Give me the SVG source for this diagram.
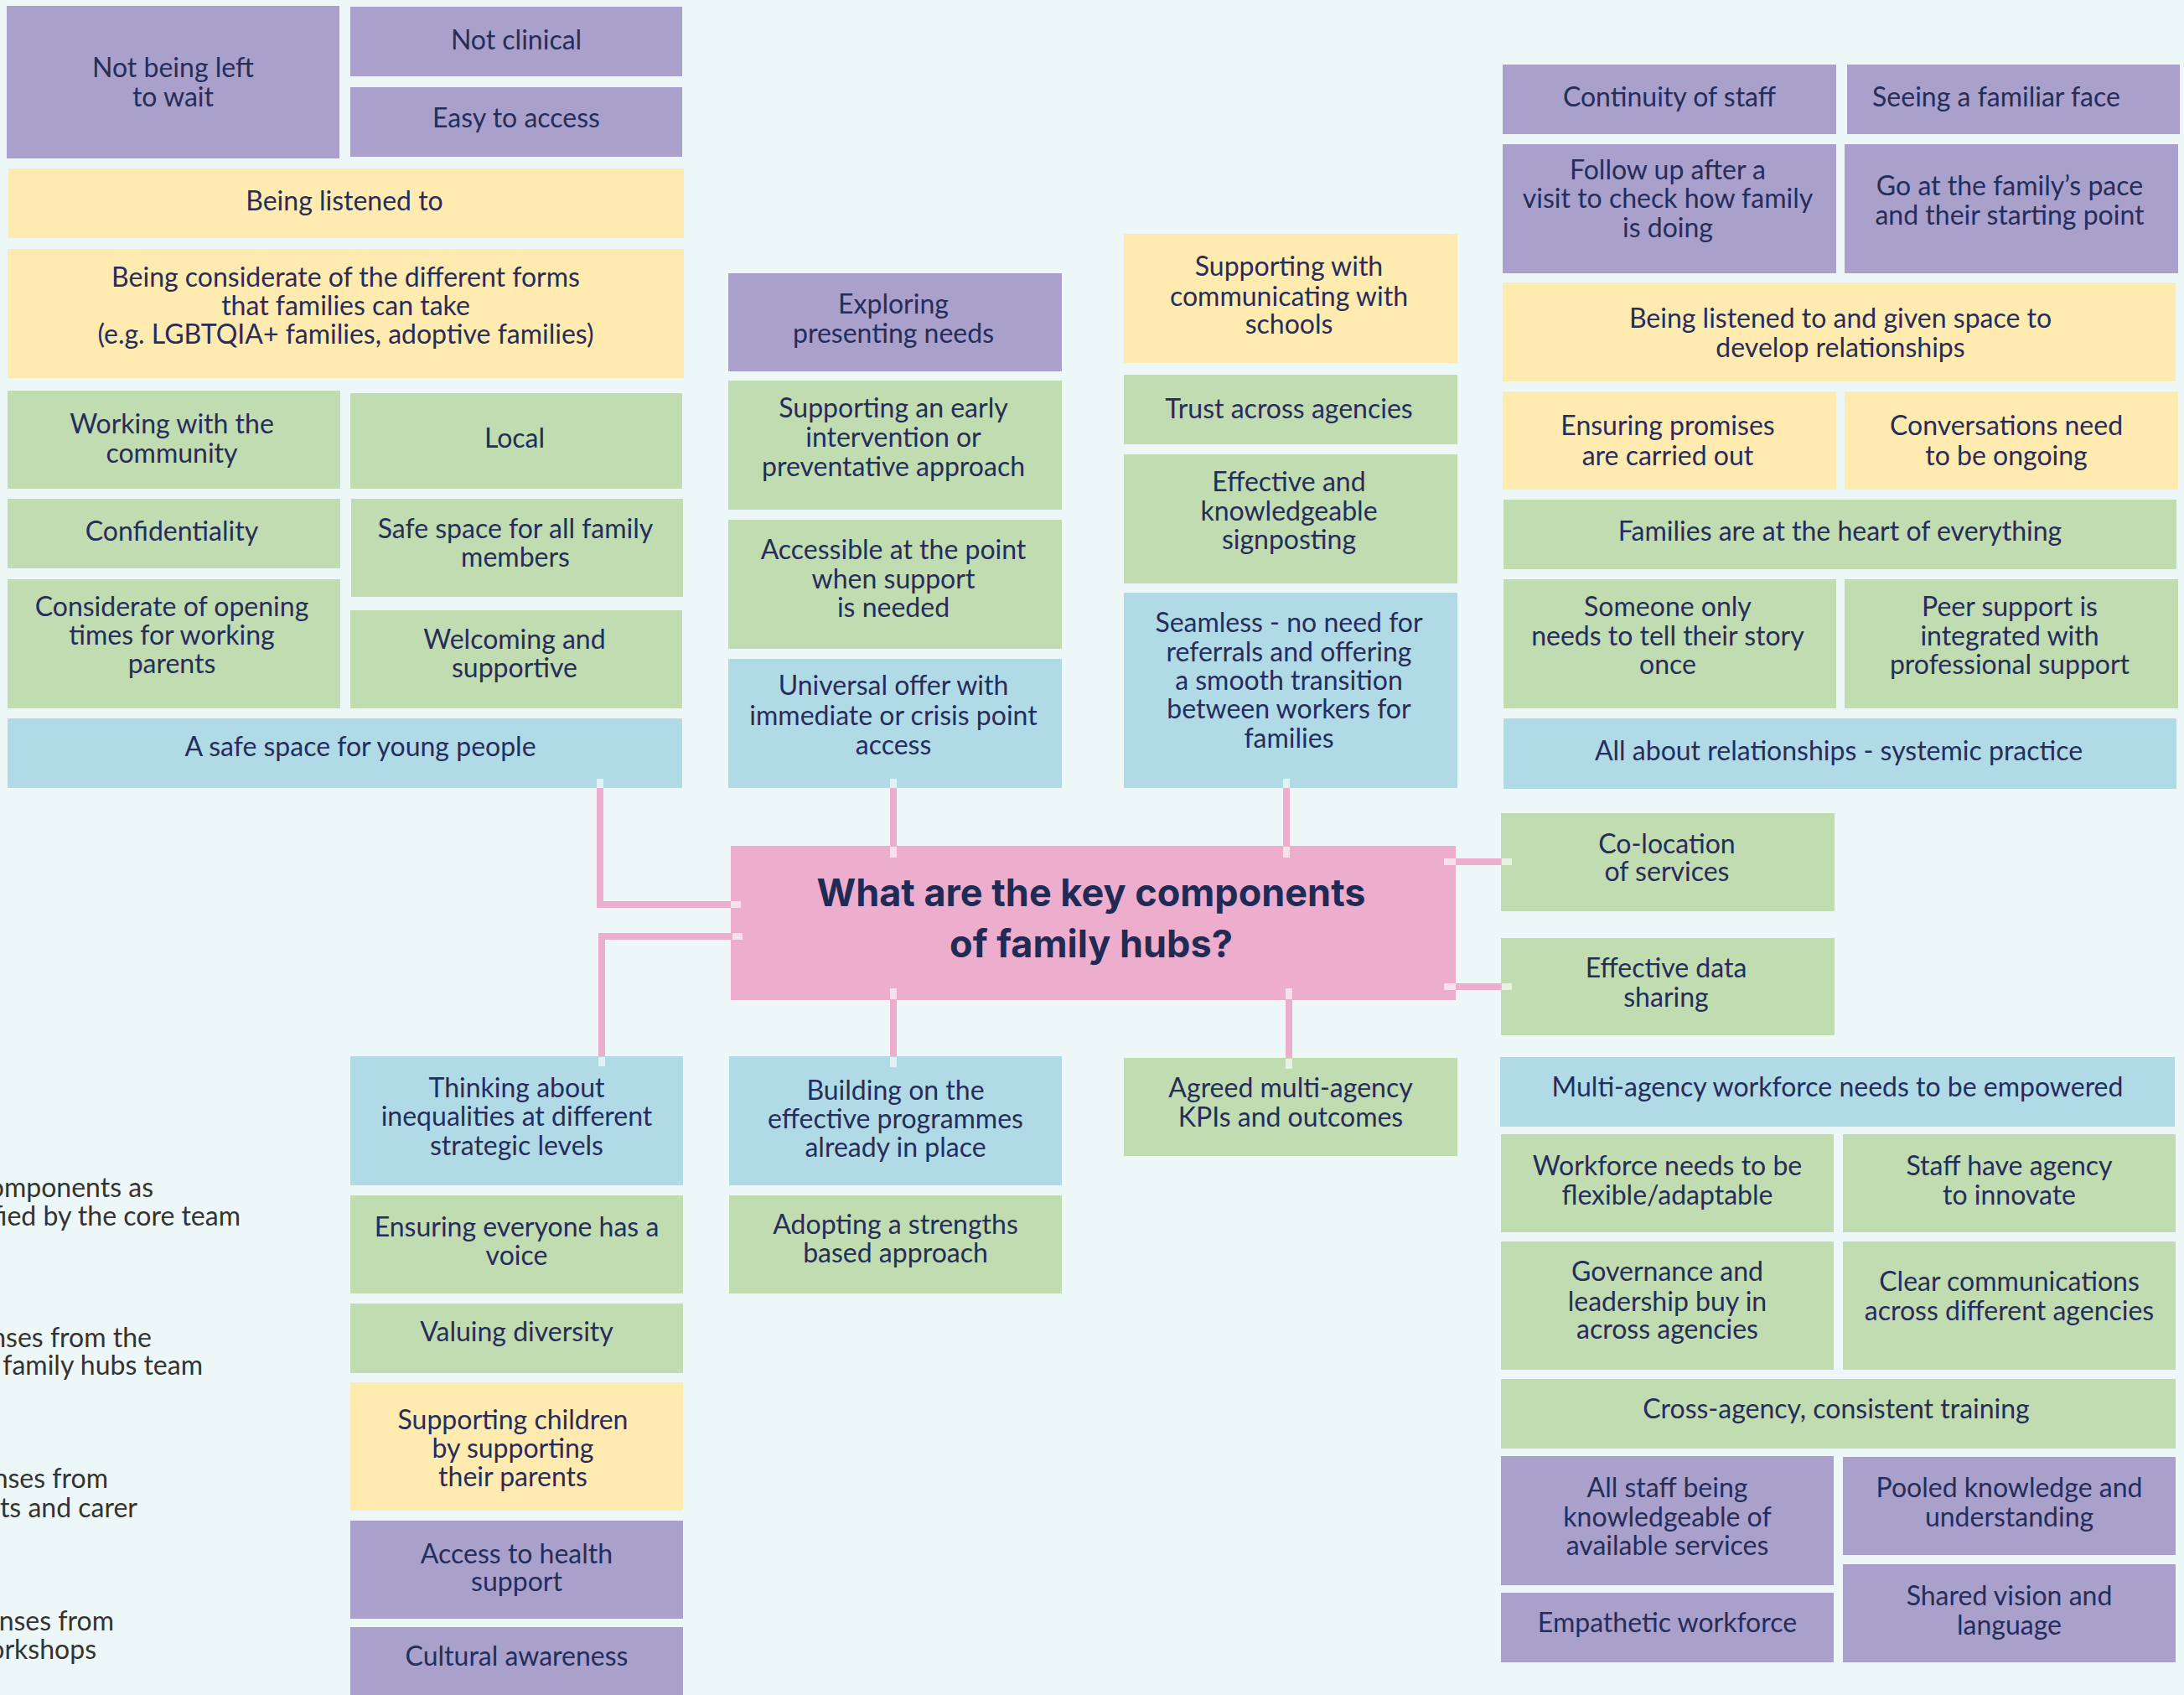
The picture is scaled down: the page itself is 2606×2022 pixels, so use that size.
<svg xmlns="http://www.w3.org/2000/svg" width="2606" height="2022" viewBox="0 0 2606 2022">
<style>
.p{fill:#a9a0cc}.y{fill:#ffeaaf}.g{fill:#c0dcb0}.b{fill:#b0dbe6}.k{fill:#edadcc}
.t{font-family:Lato,"Noto Sans",sans-serif;font-size:32px;fill:#262d5a;text-anchor:middle}
.h{font-family:Inter,"Noto Sans",sans-serif;font-size:45px;font-weight:700;fill:#1f2a55;text-anchor:middle}
.lg{font-family:Lato,"Noto Sans",sans-serif;font-size:32px;fill:#333333;text-anchor:end}
.c{stroke:#edadcc;stroke-width:8;fill:none;stroke-linejoin:miter}
.tip{fill:#ffffff;opacity:.62}
</style>
<rect width="2606" height="2022" fill="#eef7f7"/>

<g id="legend">
<text class="lg" x="183" y="1428">omponents as</text>
<text class="lg" x="287" y="1462">fied by the core team</text>
<text class="lg" x="181" y="1607">nses from the</text>
<text class="lg" x="242" y="1640">family hubs team</text>
<text class="lg" x="129" y="1775">nses from</text>
<text class="lg" x="164" y="1810">ts and carer</text>
<text class="lg" x="136" y="1945">nses from</text>
<text class="lg" x="115" y="1979">orkshops</text>
</g>

<g id="n-not-left"><rect class="p" x="8" y="7" width="397" height="182"/><text class="t"><tspan x="206.5" y="92">Not being left</tspan><tspan x="206.5" y="127">to wait</tspan></text></g>
<g id="n-not-clinical"><rect class="p" x="418" y="8" width="396" height="83"/><text class="t" x="616" y="59">Not clinical</text></g>
<g id="n-easy"><rect class="p" x="418" y="104" width="396" height="83"/><text class="t" x="616" y="152">Easy to access</text></g>
<g id="n-listened"><rect class="y" x="10" y="201" width="806" height="83"/><text class="t" x="411" y="251">Being listened to</text></g>
<g id="n-considerate"><rect class="y" x="9" y="297" width="807" height="154"/><text class="t"><tspan x="412.5" y="342">Being considerate of the different forms</tspan><tspan x="412.5" y="376">that families can take</tspan><tspan x="412.5" y="410">(e.g. LGBTQIA+ families, adoptive families)</tspan></text></g>
<g id="n-community"><rect class="g" x="9" y="466" width="397" height="117"/><text class="t"><tspan x="205" y="517">Working with the</tspan><tspan x="205" y="552">community</tspan></text></g>
<g id="n-local"><rect class="g" x="418" y="469" width="396" height="114"/><text class="t" x="614" y="534">Local</text></g>
<g id="n-confidentiality"><rect class="g" x="9" y="595" width="397" height="83"/><text class="t" x="205" y="645">Confidentiality</text></g>
<g id="n-safe-family"><rect class="g" x="419" y="595" width="396" height="117"/><text class="t"><tspan x="615" y="642">Safe space for all family</tspan><tspan x="615" y="676">members</tspan></text></g>
<g id="n-opening"><rect class="g" x="9" y="691" width="397" height="154"/><text class="t"><tspan x="205" y="735">Considerate of opening</tspan><tspan x="205" y="769">times for working</tspan><tspan x="205" y="803">parents</tspan></text></g>
<g id="n-welcoming"><rect class="g" x="418" y="728" width="396" height="117"/><text class="t"><tspan x="614" y="774">Welcoming and</tspan><tspan x="614" y="808">supportive</tspan></text></g>
<g id="n-young"><rect class="b" x="9" y="857" width="805" height="83"/><text class="t" x="430" y="902">A safe space for young people</text></g>

<g id="n-exploring"><rect class="p" x="869" y="326" width="398" height="117"/><text class="t"><tspan x="1066" y="374">Exploring</tspan><tspan x="1066" y="409">presenting needs</tspan></text></g>
<g id="n-early"><rect class="g" x="869" y="454" width="398" height="154"/><text class="t"><tspan x="1066" y="498">Supporting an early</tspan><tspan x="1066" y="533">intervention or</tspan><tspan x="1066" y="568">preventative approach</tspan></text></g>
<g id="n-accessible"><rect class="g" x="869" y="620" width="398" height="154"/><text class="t"><tspan x="1066" y="667">Accessible at the point</tspan><tspan x="1066" y="702">when support</tspan><tspan x="1066" y="736">is needed</tspan></text></g>
<g id="n-universal"><rect class="b" x="869" y="786" width="398" height="154"/><text class="t"><tspan x="1066" y="829">Universal offer with</tspan><tspan x="1066" y="865">immediate or crisis point</tspan><tspan x="1066" y="900">access</tspan></text></g>
<g id="n-schools"><rect class="y" x="1341" y="279" width="398" height="154"/><text class="t"><tspan x="1538" y="329">Supporting with</tspan><tspan x="1538" y="365">communicating with</tspan><tspan x="1538" y="398">schools</tspan></text></g>
<g id="n-trust"><rect class="g" x="1341" y="447" width="398" height="83"/><text class="t" x="1538" y="499">Trust across agencies</text></g>
<g id="n-signposting"><rect class="g" x="1341" y="542" width="398" height="154"/><text class="t"><tspan x="1538" y="586">Effective and</tspan><tspan x="1538" y="621">knowledgeable</tspan><tspan x="1538" y="655">signposting</tspan></text></g>
<g id="n-seamless"><rect class="b" x="1341" y="707" width="398" height="233"/><text class="t"><tspan x="1538" y="754">Seamless - no need for</tspan><tspan x="1538" y="789">referrals and offering</tspan><tspan x="1538" y="823">a smooth transition</tspan><tspan x="1538" y="857">between workers for</tspan><tspan x="1538" y="892">families</tspan></text></g>

<g id="n-continuity"><rect class="p" x="1793" y="77" width="398" height="83"/><text class="t" x="1992" y="127">Continuity of staff</text></g>
<g id="n-familiar"><rect class="p" x="2204" y="77" width="397" height="83"/><text class="t" x="2382" y="127">Seeing a familiar face</text></g>
<g id="n-followup"><rect class="p" x="1793" y="172" width="398" height="154"/><text class="t"><tspan x="1990" y="214">Follow up after a</tspan><tspan x="1990" y="248">visit to check how family</tspan><tspan x="1990" y="283">is doing</tspan></text></g>
<g id="n-pace"><rect class="p" x="2201" y="172" width="398" height="154"/><text class="t"><tspan x="2398" y="233">Go at the family’s pace</tspan><tspan x="2398" y="268">and their starting point</tspan></text></g>
<g id="n-listened-space"><rect class="y" x="1793" y="337" width="803" height="118"/><text class="t"><tspan x="2196" y="391">Being listened to and given space to</tspan><tspan x="2196" y="426">develop relationships</tspan></text></g>
<g id="n-promises"><rect class="y" x="1793" y="467" width="398" height="117"/><text class="t"><tspan x="1990" y="519">Ensuring promises</tspan><tspan x="1990" y="555">are carried out</tspan></text></g>
<g id="n-ongoing"><rect class="y" x="2201" y="467" width="398" height="117"/><text class="t"><tspan x="2394" y="519">Conversations need</tspan><tspan x="2394" y="555">to be ongoing</tspan></text></g>
<g id="n-heart"><rect class="g" x="1794" y="596" width="803" height="83"/><text class="t" x="2195.5" y="645">Families are at the heart of everything</text></g>
<g id="n-once"><rect class="g" x="1794" y="691" width="397" height="154"/><text class="t"><tspan x="1990" y="735">Someone only</tspan><tspan x="1990" y="770">needs to tell their story</tspan><tspan x="1990" y="804">once</tspan></text></g>
<g id="n-peer"><rect class="g" x="2201" y="691" width="398" height="154"/><text class="t"><tspan x="2398" y="735">Peer support is</tspan><tspan x="2398" y="770">integrated with</tspan><tspan x="2398" y="804">professional support</tspan></text></g>
<g id="n-relationships"><rect class="b" x="1794" y="857" width="803" height="84"/><text class="t" x="2194" y="907">All about relationships - systemic practice</text></g>
<g id="n-colocation"><rect class="g" x="1791" y="970" width="398" height="117"/><text class="t"><tspan x="1989" y="1018">Co-location</tspan><tspan x="1989" y="1051">of services</tspan></text></g>
<g id="n-data"><rect class="g" x="1791" y="1119" width="398" height="116"/><text class="t"><tspan x="1988" y="1166">Effective data</tspan><tspan x="1988" y="1201">sharing</tspan></text></g>
<g id="n-empowered"><rect class="b" x="1790" y="1261" width="805" height="83"/><text class="t" x="2192.5" y="1308">Multi-agency workforce needs to be empowered</text></g>
<g id="n-flexible"><rect class="g" x="1791" y="1353" width="397" height="117"/><text class="t"><tspan x="1989.5" y="1402">Workforce needs to be</tspan><tspan x="1989.5" y="1437">flexible/adaptable</tspan></text></g>
<g id="n-innovate"><rect class="g" x="2199" y="1353" width="397" height="117"/><text class="t"><tspan x="2397.5" y="1402">Staff have agency</tspan><tspan x="2397.5" y="1437">to innovate</tspan></text></g>
<g id="n-governance"><rect class="g" x="1791" y="1481" width="397" height="153"/><text class="t"><tspan x="1989.5" y="1528">Governance and</tspan><tspan x="1989.5" y="1564">leadership buy in</tspan><tspan x="1989.5" y="1597">across agencies</tspan></text></g>
<g id="n-clearcomm"><rect class="g" x="2199" y="1481" width="397" height="153"/><text class="t"><tspan x="2397.5" y="1540">Clear communications</tspan><tspan x="2397.5" y="1575">across different agencies</tspan></text></g>
<g id="n-training"><rect class="g" x="1791" y="1645" width="805" height="83"/><text class="t" x="2191" y="1692">Cross-agency, consistent training</text></g>
<g id="n-allstaff"><rect class="p" x="1791" y="1737" width="397" height="154"/><text class="t"><tspan x="1989.5" y="1786">All staff being</tspan><tspan x="1989.5" y="1821">knowledgeable of</tspan><tspan x="1989.5" y="1855">available services</tspan></text></g>
<g id="n-pooled"><rect class="p" x="2199" y="1738" width="397" height="117"/><text class="t"><tspan x="2397.5" y="1786">Pooled knowledge and</tspan><tspan x="2397.5" y="1821">understanding</tspan></text></g>
<g id="n-empathetic"><rect class="p" x="1791" y="1900" width="397" height="83"/><text class="t" x="1989.5" y="1947">Empathetic workforce</text></g>
<g id="n-shared"><rect class="p" x="2199" y="1866" width="397" height="117"/><text class="t"><tspan x="2397.5" y="1915">Shared vision and</tspan><tspan x="2397.5" y="1950">language</tspan></text></g>

<g id="n-building"><rect class="b" x="870" y="1260" width="397" height="154"/><text class="t"><tspan x="1068.5" y="1312">Building on the</tspan><tspan x="1068.5" y="1346">effective programmes</tspan><tspan x="1068.5" y="1380">already in place</tspan></text></g>
<g id="n-adopting"><rect class="g" x="870" y="1426" width="397" height="117"/><text class="t"><tspan x="1068.5" y="1472">Adopting a strengths</tspan><tspan x="1068.5" y="1506">based approach</tspan></text></g>
<g id="n-agreed"><rect class="g" x="1341" y="1262" width="398" height="117"/><text class="t"><tspan x="1540" y="1309">Agreed multi-agency</tspan><tspan x="1540" y="1344">KPIs and outcomes</tspan></text></g>
<g id="n-thinking"><rect class="b" x="418" y="1260" width="397" height="154"/><text class="t"><tspan x="616.5" y="1309">Thinking about</tspan><tspan x="616.5" y="1343">inequalities at different</tspan><tspan x="616.5" y="1378">strategic levels</tspan></text></g>
<g id="n-voice"><rect class="g" x="418" y="1426" width="397" height="117"/><text class="t"><tspan x="616.5" y="1475">Ensuring everyone has a</tspan><tspan x="616.5" y="1509">voice</tspan></text></g>
<g id="n-diversity"><rect class="g" x="418" y="1555" width="397" height="83"/><text class="t" x="616.5" y="1600">Valuing diversity</text></g>
<g id="n-children"><rect class="y" x="418" y="1649" width="397" height="153"/><text class="t"><tspan x="612" y="1705">Supporting children</tspan><tspan x="612" y="1739">by supporting</tspan><tspan x="612" y="1773">their parents</tspan></text></g>
<g id="n-health"><rect class="p" x="418" y="1814" width="397" height="117"/><text class="t"><tspan x="616.5" y="1865">Access to health</tspan><tspan x="616.5" y="1898">support</tspan></text></g>
<g id="n-cultural"><rect class="p" x="418" y="1941" width="397" height="90"/><text class="t" x="616.5" y="1987">Cultural awareness</text></g>

<g id="n-center"><rect class="k" x="872" y="1009" width="865" height="184"/><text class="h"><tspan x="1302" y="1081">What are the key components</tspan><tspan x="1302" y="1142">of family hubs?</tspan></text></g>

<g id="connectors">
<path class="c" d="M872 1079H716V940"/>
<path class="c" d="M874 1117H718V1260"/>
<path class="c" d="M1066 1009V940"/>
<path class="c" d="M1535 1009V940"/>
<path class="c" d="M1066 1193V1260"/>
<path class="c" d="M1538 1193V1262"/>
<path class="c" d="M1737 1028H1791"/>
<path class="c" d="M1737 1177H1791"/>
<rect class="tip" x="872" y="1075" width="12" height="8"/>
<rect class="tip" x="712" y="929" width="8" height="11"/>
<rect class="tip" x="874" y="1113" width="12" height="8"/>
<rect class="tip" x="714" y="1261" width="8" height="11"/>
<rect class="tip" x="1062" y="1010" width="8" height="13"/>
<rect class="tip" x="1062" y="929" width="8" height="11"/>
<rect class="tip" x="1531" y="1010" width="8" height="13"/>
<rect class="tip" x="1531" y="929" width="8" height="11"/>
<rect class="tip" x="1062" y="1179" width="8" height="13"/>
<rect class="tip" x="1062" y="1261" width="8" height="12"/>
<rect class="tip" x="1534" y="1179" width="8" height="13"/>
<rect class="tip" x="1534" y="1263" width="8" height="12"/>
<rect class="tip" x="1723" y="1024" width="14" height="8"/>
<rect class="tip" x="1792" y="1024" width="12" height="8"/>
<rect class="tip" x="1723" y="1173" width="14" height="8"/>
<rect class="tip" x="1792" y="1173" width="12" height="8"/>
</g>
</svg>
